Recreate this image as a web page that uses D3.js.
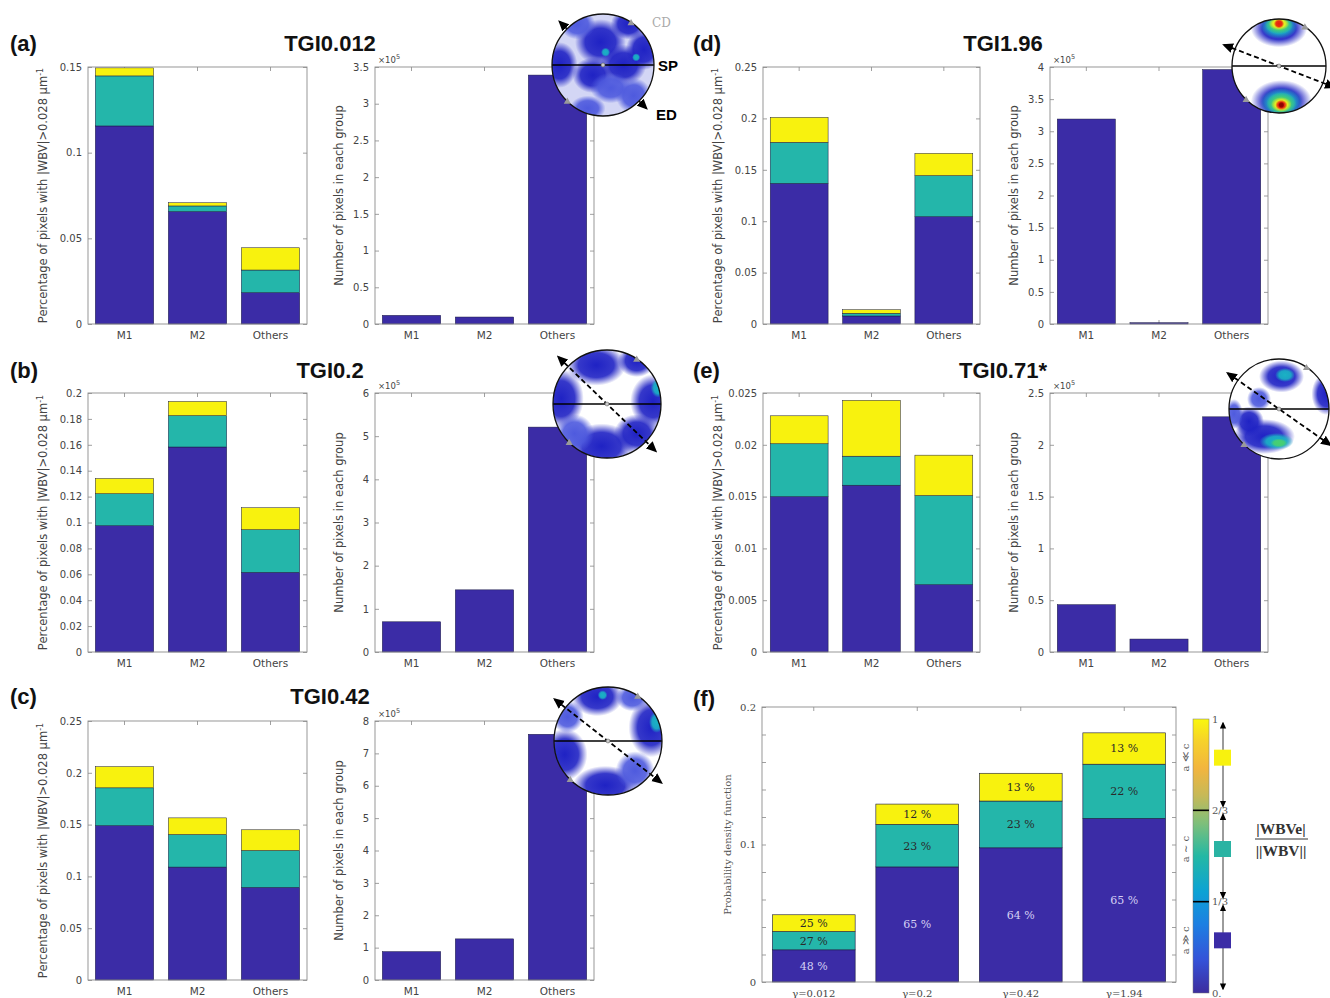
<!DOCTYPE html>
<html><head><meta charset="utf-8">
<script src="https://cdn.jsdelivr.net/npm/d3@7"></script>
<style>body{margin:0;background:#fff} svg{display:block}</style>
</head><body>
<script>
// ================= DATA =================
const groups = ["M1","M2","Others"];
const panelIds = ["(a)","(b)","(c)","(d)","(e)"];
const panelTitles = ["TGI0.012","TGI0.2","TGI0.42","TGI1.96","TGI0.71*"];
// fraction of pixels with |WBV|>0.028 µm^-1 per group, split in three |WBVe|/|WBV| classes
const fracLow  = [[0.1156,0.0656,0.0183],[0.0975,0.1583,0.0615],[0.149,0.109,0.0894],[0.1368,0.0078,0.1044],[0.0150,0.0161,0.0065]];
const fracMid  = [[0.0292,0.0033,0.0132],[0.0247,0.0242,0.0329],[0.0365,0.0314,0.0356],[0.0399,0.0026,0.0399],[0.0051,0.0028,0.0086]];
const fracHigh = [[0.0047,0.0019,0.0130],[0.0118,0.0110,0.0170],[0.0205,0.0161,0.0200],[0.0243,0.0035,0.0217],[0.0027,0.0054,0.0039]];
const fracMax  = [0.15,0.2,0.25,0.25,0.025];
const fracStep = [0.05,0.02,0.05,0.05,0.005];
// number of pixels in each group (x10^5)
const pixelCounts = [[0.118,0.095,3.39],[0.70,1.44,5.21],[0.877,1.27,7.59],[3.19,0.02,3.96],[0.457,0.125,2.27]];
const countMax  = [3.5,6,8,4,2.5];
const countStep = [0.5,1,1,0.5,0.5];
// panel (f)
const strains = ["γ=0.012","γ=0.2","γ=0.42","γ=1.94"];
const pdfLow  = [0.0234,0.0837,0.0976,0.1190];
const pdfMid  = [0.0133,0.0309,0.0340,0.0394];
const pdfHigh = [0.0122,0.0148,0.0202,0.0228];
const pctLow  = [48,65,64,65];
const pctMid  = [27,23,23,22];
const pctHigh = [25,12,13,13];
const pdfTicks = [0,0.1,0.2];
const cbTicks = [0,1/3,2/3,1];
const cbTickLabels = ["0.","1/3","2/3","1"];
const cbClassLabels = ["a ≫ c","a ∼ c","a ≪ c"];
// pole-figure intensity blobs: [x, y, rx, ry, colour] in unit-circle coordinates
const poleBlobs = [
 [[-0.05,-0.45,0.5,0.45,"b"],[0.4,0.0,0.45,0.4,"b"],[0.8,-0.3,0.35,0.4,"b"],[-0.85,0.0,0.35,0.45,"b"],
  [-0.2,0.2,0.4,0.35,"b"],[0.15,0.45,0.4,0.3,"lb"],[0.6,0.6,0.35,0.35,"lb"],[-0.5,-0.8,0.35,0.3,"lb"],
  [0.5,-0.8,0.35,0.3,"b"],[-0.3,0.85,0.35,0.25,"lb"],[0.05,-0.25,0.09,0.09,"t"],[0.65,-0.15,0.08,0.08,"t"]],
 [[-0.2,-0.72,0.55,0.38,"b"],[0.55,-0.8,0.35,0.3,"b"],[0.85,-0.05,0.42,0.5,"b"],[-0.85,-0.1,0.42,0.55,"b"],
  [-0.1,0.78,0.6,0.42,"b"],[0.55,0.55,0.42,0.36,"b"],[-0.6,0.55,0.36,0.36,"lb"],[0.95,-0.3,0.14,0.18,"t"]],
 [[0.8,-0.25,0.42,0.55,"b"],[0.9,-0.35,0.14,0.2,"t"],[-0.8,0.25,0.42,0.48,"b"],[-0.05,0.82,0.6,0.36,"b"],
  [-0.2,-0.82,0.48,0.36,"b"],[0.45,-0.8,0.3,0.25,"lb"],[0.5,0.55,0.36,0.36,"lb"],[-0.75,-0.45,0.3,0.3,"lb"],
  [-0.1,-0.85,0.09,0.09,"t"]],
 [[0.0,-0.8,0.6,0.4,"b"],[0.0,-0.85,0.4,0.27,"t"],[0.0,-0.88,0.3,0.2,"g"],[0.0,-0.9,0.22,0.14,"y"],
  [0.0,-0.9,0.11,0.1,"r"],[0.05,0.75,0.65,0.45,"b"],[0.05,0.78,0.45,0.32,"t"],[0.05,0.8,0.32,0.24,"g"],
  [0.05,0.82,0.22,0.16,"y"],[0.05,0.83,0.13,0.11,"r"],[0.05,0.83,0.07,0.07,"dr"]],
 [[0.05,-0.65,0.45,0.32,"b"],[0.12,-0.68,0.2,0.14,"t"],[0.95,-0.3,0.3,0.42,"b"],[-0.3,0.55,0.62,0.35,"b"],
  [-0.05,0.65,0.34,0.17,"t"],[0.0,0.68,0.17,0.09,"g"],[-0.6,0.25,0.3,0.3,"b"],[-0.9,0.1,0.18,0.3,"lb"],
  [-0.4,-0.2,0.24,0.24,"lb"]]
];

// ================= LAYOUT / STYLE =================
const W = 1330, H = 998;
const cLow = "#3b2ca6", cMid = "#24b6aa", cHigh = "#f8f20e";
const rowsY = [[67,324],[393,652],[721,980]];
const colsX = [[[88,307],[375,594]],[[763,980],[1050,1268]]];
const panelPos = [[0,0],[0,1],[0,2],[1,0],[1,1]];
const labelPos = [[10,51],[10,378],[10,704],[693,51],[693,378],[693,706]];
const titleX = [330,330,330,1003,1003];
const poleGeom = [{cx:603,cy:65,r:51,ang:45,base:"#d3d6f5"},{cx:607,cy:404,r:54,ang:44,base:"#fff"},
  {cx:608,cy:741,r:54,ang:38,base:"#fff"},{cx:1279,cy:66,r:47,ang:21,base:"#fff"},{cx:1279,cy:409,r:50,ang:35,base:"#fff"}];
const blobColors = {b:"#1f22c4", lb:"#4e5ade", t:"#1ab2c4", g:"#48d070", y:"#f4f01a", r:"#e81c10", dr:"#8c0000"};
const sansFont = "DejaVu Sans, sans-serif", serifFont = "DejaVu Serif, serif", boldFont = "Liberation Sans, Arial, sans-serif";
const tickColor = "#444";

const svg = d3.select("body").append("svg").attr("width",W).attr("height",H);
const defs = svg.append("defs");
Object.entries(blobColors).forEach(([k,c])=>{
  const rg = defs.append("radialGradient").attr("id","blob-"+k);
  rg.append("stop").attr("offset","0%").attr("stop-color",c).attr("stop-opacity",1);
  rg.append("stop").attr("offset","60%").attr("stop-color",c).attr("stop-opacity",0.9);
  rg.append("stop").attr("offset","100%").attr("stop-color",c).attr("stop-opacity",0);
});
function mk(id,size){
  defs.append("marker").attr("id",id).attr("viewBox","0 -5 10 10").attr("refX",8).attr("refY",0)
    .attr("markerUnits","userSpaceOnUse").attr("markerWidth",size).attr("markerHeight",size)
    .attr("orient","auto-start-reverse").append("path").attr("d","M0,-4.5L10,0L0,4.5Z").attr("fill","#000");
}
mk("arr",11); mk("arrS",7);

const fmtNum = d => String(+d.toFixed(4));
function styleAxis(g, font, size){
  g.select(".domain").remove();
  g.selectAll(".tick line").attr("stroke","#777").attr("stroke-width",0.7);
  g.selectAll(".tick text").attr("fill",tickColor).attr("font-family",font).attr("font-size",size);
}
function frame(g,x,y,x0,x1,y0,y1,yTicks,labelFmt,font,size){
  const gl = g.append("g").attr("transform",`translate(${x0},0)`)
    .call(d3.axisLeft(y).tickValues(yTicks).tickSizeInner(-4).tickSizeOuter(0).tickPadding(6).tickFormat(labelFmt));
  styleAxis(gl,font,size);
  const gr = g.append("g").attr("transform",`translate(${x1},0)`)
    .call(d3.axisRight(y).tickValues(yTicks).tickSizeInner(-4).tickSizeOuter(0).tickFormat(""));
  styleAxis(gr,font,size);
  const gb = g.append("g").attr("transform",`translate(0,${y1})`)
    .call(d3.axisBottom(x).tickSizeInner(-4).tickSizeOuter(0).tickPadding(8));
  styleAxis(gb,font,size + (font===sansFont?0.5:0));
  const gt = g.append("g").attr("transform",`translate(0,${y0})`)
    .call(d3.axisTop(x).tickSizeInner(-4).tickSizeOuter(0).tickFormat(""));
  styleAxis(gt,font,size);
}
function box(g,x0,x1,y0,y1){
  g.append("rect").attr("x",x0).attr("y",y0).attr("width",x1-x0).attr("height",y1-y0)
    .attr("fill","none").attr("stroke","#8c8c8c").attr("stroke-width",0.9);
}
const keys = ["low","mid","high"], segColor = {low:cLow, mid:cMid, high:cHigh};

// ================= PANELS a-e =================
panelIds.forEach((pid,i)=>{
  const [col,row] = panelPos[i];
  const [y0,y1] = rowsY[row];
  const g = svg.append("g");
  // --- left: stacked fractions
  {
    const [x0,x1] = colsX[col][0];
    const x = d3.scaleBand().domain(groups).range([x0,x1]).paddingInner(0.2).paddingOuter(0.1);
    const y = d3.scaleLinear().domain([0,fracMax[i]]).range([y1,y0]);
    const ticks = d3.range(0, fracMax[i] + fracStep[i]/2, fracStep[i]);
    frame(g,x,y,x0,x1,y0,y1,ticks,fmtNum,sansFont,10);
    const data = groups.map((gr,j)=>({g:gr, low:fracLow[i][j], mid:fracMid[i][j], high:fracHigh[i][j]}));
    const st = d3.stack().keys(keys)(data);
    g.selectAll(null).data(st).join("g").attr("fill",s=>segColor[s.key])
      .selectAll("rect").data(s=>s).join("rect")
      .attr("x",d=>x(d.data.g)).attr("width",x.bandwidth())
      .attr("y",d=>y(d[1])).attr("height",d=>y(d[0])-y(d[1]))
      .attr("stroke","#1a1a40").attr("stroke-width",0.5);
    box(g,x0,x1,y0,y1);
    const t = g.append("text").attr("transform",`translate(${x0-41},${(y0+y1)/2}) rotate(-90)`)
      .attr("text-anchor","middle").attr("font-family",sansFont).attr("font-size",11.5).attr("fill",tickColor);
    t.append("tspan").text("Percentage of pixels with |WBV|>0.028 µm");
    t.append("tspan").attr("dy",-4).attr("font-size",8).text("-1");
  }
  // --- right: pixel counts
  {
    const [x0,x1] = colsX[col][1];
    const x = d3.scaleBand().domain(groups).range([x0,x1]).paddingInner(0.2).paddingOuter(0.1);
    const y = d3.scaleLinear().domain([0,countMax[i]]).range([y1,y0]);
    const ticks = d3.range(0, countMax[i] + countStep[i]/2, countStep[i]);
    frame(g,x,y,x0,x1,y0,y1,ticks,fmtNum,sansFont,10);
    g.selectAll(null).data(groups).join("rect")
      .attr("x",d=>x(d)).attr("width",x.bandwidth())
      .attr("y",(d,j)=>y(pixelCounts[i][j])).attr("height",(d,j)=>y(0)-y(pixelCounts[i][j]))
      .attr("fill",cLow).attr("stroke","#1a1a40").attr("stroke-width",0.5);
    box(g,x0,x1,y0,y1);
    g.append("text").attr("transform",`translate(${x0-32},${(y0+y1)/2}) rotate(-90)`)
      .attr("text-anchor","middle").attr("font-family",sansFont).attr("font-size",11.5).attr("fill",tickColor)
      .text("Number of pixels in each group");
    const e = g.append("text").attr("x",x0+3).attr("y",y0-4).attr("font-family",sansFont)
      .attr("font-size",8.5).attr("fill",tickColor);
    e.append("tspan").text("×10");
    e.append("tspan").attr("dy",-4).attr("font-size",6.5).text("5");
  }
  // titles
  svg.append("text").attr("x",labelPos[i][0]).attr("y",labelPos[i][1]).attr("font-family",boldFont)
    .attr("font-weight","bold").attr("font-size",22).attr("fill","#111").text(pid);
  svg.append("text").attr("x",titleX[i]).attr("y",labelPos[i][1]).attr("text-anchor","middle")
    .attr("font-family",boldFont).attr("font-weight","bold").attr("font-size",22).attr("fill","#111").text(panelTitles[i]);
});

// ================= POLE FIGURES =================
poleGeom.forEach((G,i)=>{
  const g = svg.append("g").attr("transform",`translate(${G.cx},${G.cy})`);
  const s = d3.scaleLinear().domain([-1,1]).range([-G.r,G.r]);
  const cid = "clip"+i;
  defs.append("clipPath").attr("id",cid).append("circle").attr("r",G.r);
  g.append("circle").attr("r",G.r).attr("fill",G.base);
  g.append("g").attr("clip-path",`url(#${cid})`).selectAll("ellipse").data(poleBlobs[i]).join("ellipse")
    .attr("cx",d=>s(d[0])).attr("cy",d=>s(d[1])).attr("rx",d=>d[2]*G.r).attr("ry",d=>d[3]*G.r)
    .attr("fill",d=>`url(#blob-${d[4]})`);
  g.append("line").attr("x1",-G.r).attr("x2",G.r).attr("y1",0).attr("y2",0).attr("stroke","#000").attr("stroke-width",1.6);
  const a = G.ang*Math.PI/180, cs = Math.cos(a), sn = Math.sin(a);
  if(i===0){
    [-1,1].forEach(sx=>{
      g.append("line").attr("x1",sx*1.0*G.r*cs).attr("y1",sx*1.0*G.r*sn)
        .attr("x2",sx*1.2*G.r*cs).attr("y2",sx*1.2*G.r*sn).attr("stroke","#000").attr("stroke-width",1.6)
        .attr("marker-end","url(#arr)");
    });
  } else {
    const L = 1.25*G.r;
    g.append("line").attr("x1",-L*cs).attr("y1",-L*sn).attr("x2",L*cs).attr("y2",L*sn)
      .attr("stroke","#000").attr("stroke-width",1.8).attr("stroke-dasharray","5,3")
      .attr("marker-start","url(#arr)").attr("marker-end","url(#arr)");
  }
  g.append("circle").attr("r",G.r).attr("fill","none").attr("stroke","#111").attr("stroke-width",1.3);
  [[0.55,-0.82],[-0.7,0.72]].forEach(p=>{
    g.append("path").attr("d",d3.symbol(d3.symbolTriangle,22)()).attr("transform",`translate(${s(p[0])},${s(p[1])})`)
      .attr("fill","#9a9a9a");
  });
  g.append("circle").attr("r",2).attr("fill","#ccc").attr("stroke","#555").attr("stroke-width",0.5);
});
svg.append("text").attr("x",658).attr("y",71).attr("font-family",boldFont).attr("font-weight","bold")
  .attr("font-size",15).text("SP");
svg.append("text").attr("x",656).attr("y",120).attr("font-family",boldFont).attr("font-weight","bold")
  .attr("font-size",15).text("ED");
svg.append("text").attr("x",652).attr("y",27).attr("font-family",serifFont)
  .attr("font-size",12).attr("fill","#aaa").text("CD");

// ================= PANEL (f) =================
{
  const x0=762, x1=1176, y0=707, y1=982;
  const g = svg.append("g");
  const x = d3.scaleBand().domain(strains).range([x0,x1]).paddingInner(0.2).paddingOuter(0.1);
  const y = d3.scaleLinear().domain([0,0.2]).range([y1,y0]);
  const ticks = d3.range(0,0.2001,0.02);
  frame(g,x,y,x0,x1,y0,y1,ticks,d=>pdfTicks.some(t=>Math.abs(t-d)<1e-9)?fmtNum(d):"",serifFont,10);
  const data = strains.map((s,j)=>({g:s, low:pdfLow[j], mid:pdfMid[j], high:pdfHigh[j],
    plow:pctLow[j], pmid:pctMid[j], phigh:pctHigh[j]}));
  const st = d3.stack().keys(keys)(data);
  const sg = g.selectAll(null).data(st).join("g").attr("fill",s=>segColor[s.key]);
  sg.selectAll("rect").data(s=>s).join("rect")
    .attr("x",d=>x(d.data.g)).attr("width",x.bandwidth())
    .attr("y",d=>y(d[1])).attr("height",d=>y(d[0])-y(d[1]))
    .attr("stroke","#1a1a40").attr("stroke-width",0.6);
  st.forEach(s=>{
    g.selectAll(null).data(s).join("text")
      .attr("x",d=>x(d.data.g)+x.bandwidth()/2).attr("y",d=>(y(d[0])+y(d[1]))/2)
      .attr("dy","0.35em").attr("text-anchor","middle").attr("font-family",serifFont).attr("font-size",11)
      .attr("fill",s.key==="low"?"#d4d0f4":"#2a2a2a")
      .text(d=>d.data["p"+s.key]+" %");
  });
  box(g,x0,x1,y0,y1);
  g.append("text").attr("transform",`translate(731,${(y0+y1)/2}) rotate(-90)`).attr("text-anchor","middle")
    .attr("font-family",serifFont).attr("font-size",10).attr("fill","#555").text("Probability density function");
  svg.append("text").attr("x",labelPos[5][0]).attr("y",labelPos[5][1]).attr("font-family",boldFont)
    .attr("font-weight","bold").attr("font-size",22).attr("fill","#111").text("(f)");

  // colorbar
  const cb = d3.scaleLinear().domain([0,1]).range([993,719]);
  const grad = defs.append("linearGradient").attr("id","parula").attr("x1",0).attr("y1",1).attr("x2",0).attr("y2",0);
  [[0,"#3d2c9e"],[0.12,"#3552d8"],[0.25,"#1d7fe2"],[0.37,"#0ca2d4"],[0.5,"#24b8a4"],[0.62,"#7fbf7a"],
   [0.72,"#c6b958"],[0.82,"#f2b53e"],[0.92,"#f6d22a"],[1,"#f9f70e"]].forEach(([o,c])=>
    grad.append("stop").attr("offset",o).attr("stop-color",c));
  const cbx0 = 1193, cbx1 = 1209;
  g.append("rect").attr("x",cbx0).attr("y",cb(1)).attr("width",cbx1-cbx0).attr("height",cb(0)-cb(1))
    .attr("fill","url(#parula)").attr("stroke","#777").attr("stroke-width",0.5);
  g.selectAll(null).data(cbTicks.slice(1,3)).join("line").attr("x1",cbx0).attr("x2",cbx1)
    .attr("y1",d=>cb(d)).attr("y2",d=>cb(d)).attr("stroke","#000").attr("stroke-width",1.6);
  g.selectAll(null).data(cbTicks).join("text").attr("x",cbx1+3).attr("y",d=>cb(d)).attr("dy","0.35em")
    .attr("font-family",serifFont).attr("font-size",10).attr("fill","#555").text((d,k)=>cbTickLabels[k]);
  const classCols = [cLow, "#2ab3a3", cHigh];
  [0,1,2].forEach(k=>{
    const top = cb(cbTicks[k+1]), bot = cb(cbTicks[k]), mid = (top+bot)/2 - 7;
    g.append("line").attr("x1",1223).attr("x2",1223).attr("y1",mid).attr("y2",top+4)
      .attr("stroke","#222").attr("stroke-width",0.9).attr("marker-end","url(#arrS)");
    g.append("line").attr("x1",1223).attr("x2",1223).attr("y1",mid).attr("y2",bot-4)
      .attr("stroke","#222").attr("stroke-width",0.9).attr("marker-end","url(#arrS)");
    g.append("rect").attr("x",1214).attr("y",mid-8).attr("width",17).attr("height",16).attr("fill",classCols[k]);
    g.append("text").attr("transform",`translate(1189,${mid}) rotate(-90)`).attr("text-anchor","middle")
      .attr("font-family",serifFont).attr("font-size",10).attr("fill","#555").text(cbClassLabels[k]);
  });
  const fr = g.append("g").attr("font-family","Liberation Serif, serif").attr("font-weight","bold")
    .attr("font-size",15.5).attr("fill","#333").attr("text-anchor","middle");
  fr.append("text").attr("x",1281).attr("y",834).text("|WBVe|");
  fr.append("line").attr("x1",1255).attr("x2",1308).attr("y1",839).attr("y2",839).attr("stroke","#333").attr("stroke-width",1);
  fr.append("text").attr("x",1281).attr("y",856).text("||WBV||");
}
</script>
</body></html>
